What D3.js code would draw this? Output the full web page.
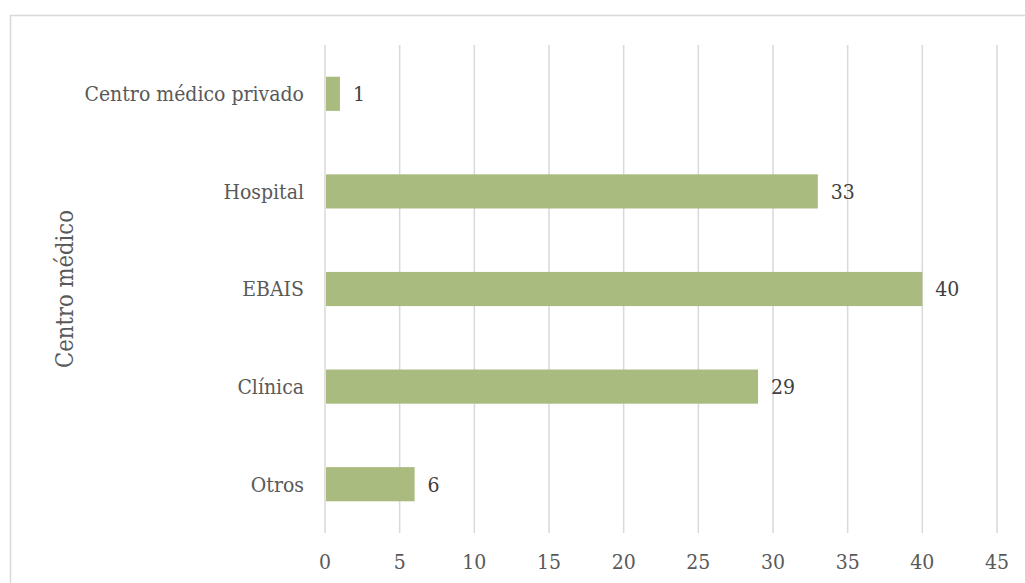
<!DOCTYPE html>
<html><head><meta charset="utf-8">
<script src="https://cdn.jsdelivr.net/npm/d3@7"></script>
<style>body{margin:0;background:#fff}svg{display:block}text{font-family:"DejaVu Serif Condensed","DejaVu Serif",serif;font-stretch:condensed}</style>
</head><body>
<script>
const categories = ["Centro médico privado", "Hospital", "EBAIS", "Clínica", "Otros"];
const values = [1, 33, 40, 29, 6];
const ticks = [0, 5, 10, 15, 20, 25, 30, 35, 40, 45];
const axisTitle = "Centro médico";

const W = 1025, H = 583;
const svg = d3.select("body").append("svg").attr("width", W).attr("height", H);
svg.append("rect").attr("x", 10.5).attr("y", 15.5).attr("width", W).attr("height", H)
  .attr("fill", "#fff").attr("stroke", "#d9d9d9").attr("stroke-width", 1.5);

const x = d3.scaleLinear().domain([0, 45]).range([325, 997]);
const y = d3.scaleBand().domain(categories).range([45, 533]).paddingInner(0.65).paddingOuter(0.325);
const fs = 21;

svg.append("g").selectAll("line").data(ticks).join("line")
  .attr("x1", d => x(d)).attr("x2", d => x(d)).attr("y1", 45).attr("y2", 533)
  .attr("stroke", "#d9d9d9").attr("stroke-width", 1.5);

svg.append("g").selectAll("rect").data(values).join("rect")
  .attr("x", x(0) + 1).attr("y", (d, i) => y(categories[i]))
  .attr("width", d => x(d) - x(0) - 1).attr("height", y.bandwidth())
  .attr("fill", "#a9bb7e");

svg.append("g").selectAll("text").data(values).join("text")
  .attr("x", d => x(d) + 13).attr("y", (d, i) => y(categories[i]) + y.bandwidth() / 2)
  .attr("dy", "0.35em").attr("font-size", fs).attr("fill", "#404040")
  .text(d => d);

svg.append("g").selectAll("text").data(categories).join("text")
  .attr("x", 304).attr("y", d => y(d) + y.bandwidth() / 2).attr("dy", "0.35em")
  .attr("text-anchor", "end").attr("font-size", fs).attr("fill", "#595959")
  .text(d => d);

svg.append("g").selectAll("text").data(ticks).join("text")
  .attr("x", d => x(d)).attr("y", 562).attr("dy", "0.35em").attr("text-anchor", "middle")
  .attr("font-size", fs).attr("fill", "#595959").text(d => d);

svg.append("text").attr("transform", "translate(65,289) rotate(-90)")
  .attr("text-anchor", "middle").attr("dy", "0.35em")
  .attr("font-size", 23.5).attr("fill", "#595959").text(axisTitle);
</script>
</body></html>
